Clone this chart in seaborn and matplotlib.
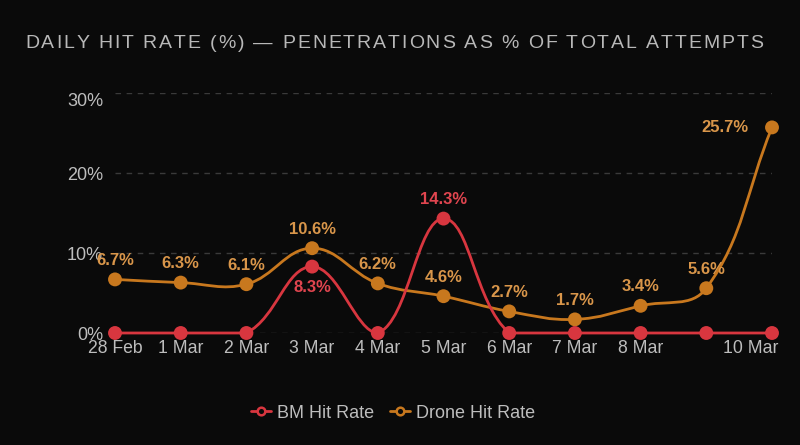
import numpy as np
import pandas as pd
import matplotlib
matplotlib.use("Agg")
import matplotlib.pyplot as plt
from matplotlib.path import Path
from matplotlib.patches import PathPatch
from matplotlib.lines import Line2D
import matplotlib.transforms as mtransforms
import seaborn as sns

dates = ["28 Feb", "1 Mar", "2 Mar", "3 Mar", "4 Mar", "5 Mar", "6 Mar",
         "7 Mar", "8 Mar", "9 Mar", "10 Mar"]
bm_rate = [0, 0, 0, 8.3, 0, 14.3, 0, 0, 0, 0, 0]
drone_rate = [6.7, 6.3, 6.1, 10.6, 6.2, 4.6, 2.7, 1.7, 3.4, 5.6, 25.7]
y_ticks = [0, 10, 20, 30]
title = "DAILY HIT RATE (%) — PENETRATIONS AS % OF TOTAL ATTEMPTS"

BG = "#0a0a0a"
BM_C = "#d8363f"
DR_C = "#c8781e"
BM_LBL = "#e0454f"
DR_LBL = "#d9964a"
TXT = "#bdbdbd"
GRID = "#3a3a3a"

sns.set_theme(style="dark")
plt.rcParams["font.family"] = ["Liberation Sans", "DejaVu Sans"]

W, H = 800, 445
fig = plt.figure(figsize=(W / 100, H / 100), dpi=100, facecolor=BG)
left_px, right_px, top_px, bot_px = 115, 772, 93, 333
ax = fig.add_axes([left_px / W, (H - bot_px) / H, (right_px - left_px) / W,
                   (bot_px - top_px) / H])
ax.set_facecolor(BG)
ymin, ymax = 0, 30
ax.set_xlim(0, len(dates) - 1)
ax.set_ylim(ymin, ymax)
sx = (right_px - left_px) / (len(dates) - 1)
sy = (bot_px - top_px) / (ymax - ymin)

for yv in y_ticks:
    ax.axhline(yv, color=GRID, lw=1, ls=(0, (4, 4)), zorder=0)


def smooth_path(ys, tension=0.4):
    n = len(ys)
    P = np.array([[i * sx, y * sy] for i, y in enumerate(ys)], dtype=float)
    cp_prev = np.zeros_like(P)
    cp_next = np.zeros_like(P)
    for i in range(n):
        p0 = P[i - 1] if i > 0 else P[i]
        p1 = P[i]
        p2 = P[i + 1] if i < n - 1 else P[i]
        d01 = np.hypot(*(p1 - p0))
        d12 = np.hypot(*(p2 - p1))
        tot = d01 + d12
        s01 = d01 / tot if tot else 0
        s12 = d12 / tot if tot else 0
        fa, fb = tension * s01, tension * s12
        cp_prev[i] = p1 - fa * (p2 - p0)
        cp_next[i] = p1 + fb * (p2 - p0)
    for cp in (cp_prev, cp_next):
        cp[:, 1] = np.clip(cp[:, 1], ymin * sy, ymax * sy)
        cp[:, 0] = np.clip(cp[:, 0], 0, (n - 1) * sx)
    verts = [P[0]]
    codes = [Path.MOVETO]
    for i in range(n - 1):
        verts += [cp_next[i], cp_prev[i + 1], P[i + 1]]
        codes += [Path.CURVE4] * 3
    verts = np.array(verts) / np.array([sx, sy])
    return Path(verts, codes)


for ys, c in ((drone_rate, DR_C), (bm_rate, BM_C)):
    ax.add_patch(PathPatch(smooth_path(ys), fill=False, edgecolor=c, lw=2.0,
                           zorder=2, clip_on=False, capstyle="round"))

df = pd.DataFrame({"x": list(range(len(dates))) * 2,
                   "rate": drone_rate + bm_rate,
                   "series": ["Drone Hit Rate"] * len(dates) + ["BM Hit Rate"] * len(dates)})
sns.scatterplot(data=df, x="x", y="rate", hue="series",
                palette={"Drone Hit Rate": DR_C, "BM Hit Rate": BM_C},
                s=100, edgecolor="none", legend=False, ax=ax, zorder=3, clip_on=False)

px2pt = 0.72
for i, v in enumerate(drone_rate):
    dx, dy = 0, 19
    if i == len(drone_rate) - 1:
        dx, dy = -47, 0
    ax.annotate(f"{v}%", (i, v), xytext=(dx * px2pt, dy * px2pt), textcoords="offset points",
                ha="center", va="center", color=DR_LBL, fontsize=12, fontweight="bold",
                zorder=5, annotation_clip=False)
for i, v in enumerate(bm_rate):
    if v == 0:
        continue
    dy = 19
    if v < drone_rate[i]:
        dy = -21
    ax.annotate(f"{v}%", (i, v), xytext=(0, dy * px2pt), textcoords="offset points",
                ha="center", va="center", color=BM_LBL, fontsize=12, fontweight="bold",
                zorder=5, annotation_clip=False)

ax.set_yticks(y_ticks)
ax.set_yticklabels([f"{t}%" for t in y_ticks])
ax.set_xticks(range(len(dates)))
ax.set_xticklabels(dates)
xl = ax.get_xticklabels()
xl[9].set_visible(False)
xl[-1].set_horizontalalignment("right")
ax.tick_params(axis="y", colors=TXT, labelsize=13, length=0, pad=8.6)
ax.tick_params(axis="x", colors=TXT, labelsize=12.7, length=0, pad=5)
for lab in ax.get_xticklabels() + ax.get_yticklabels():
    lab.set_color(TXT)
yl = ax.get_yticklabels()
yl[-1].set_transform(yl[-1].get_transform() +
                     mtransforms.ScaledTranslation(0, -7 / 100, fig.dpi_scale_trans))
xl[-1].set_transform(xl[-1].get_transform() +
                     mtransforms.ScaledTranslation(6 / 100, 0, fig.dpi_scale_trans))
for sp in ax.spines.values():
    sp.set_visible(False)
ax.grid(False)
ax.set_xlabel("")
ax.set_ylabel("")

# letter-spaced title
renderer = fig.canvas.get_renderer()
t_fs = 14
t_left, t_right, t_y = 25, 763, H - 43
widths = []
for ch in title:
    tmp = fig.text(0, 0, ch if ch != " " else "\u00a0", fontsize=t_fs)
    widths.append(tmp.get_window_extent(renderer).width)
    tmp.remove()
spacing = (t_right - t_left - sum(widths)) / (len(title) - 1)
xpos = t_left
for ch, w in zip(title, widths):
    if ch != " ":
        fig.text(xpos / W, t_y / H, ch, fontsize=t_fs, color="#b8b8b8",
                 ha="left", va="center")
    xpos += w + spacing

handles = [Line2D([0], [0], color=BM_C, lw=2, marker="o", markersize=5.5,
                  markerfacecolor=BG, markeredgecolor=BM_C, markeredgewidth=1.8),
           Line2D([0], [0], color=DR_C, lw=2, marker="o", markersize=5.5,
                  markerfacecolor=BG, markeredgecolor=DR_C, markeredgewidth=1.8)]
leg = fig.legend(handles, ["BM Hit Rate", "Drone Hit Rate"], loc="center",
                 bbox_to_anchor=(393 / W, 1 - 413 / H), ncol=2, frameon=False,
                 fontsize=13, handlelength=1.1, handletextpad=0.35, columnspacing=0.85)
for t in leg.get_texts():
    t.set_color(TXT)

fig.savefig("out.png", dpi=100, facecolor=BG)
